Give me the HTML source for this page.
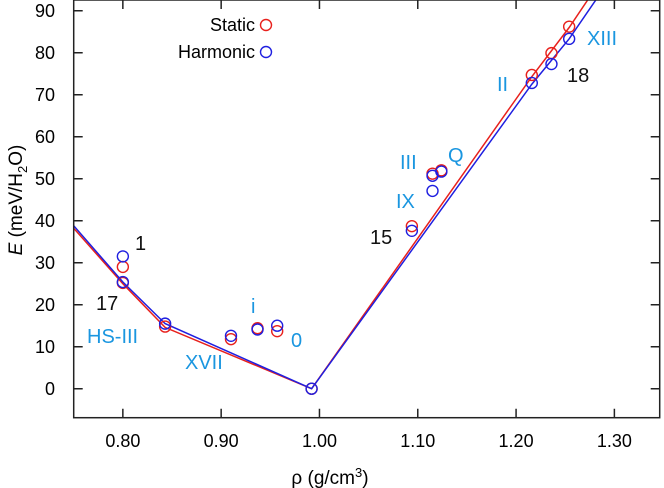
<!DOCTYPE html>
<html><head><meta charset="utf-8"><style>
body{margin:0;background:#fff}
svg{display:block;font-family:"Liberation Sans",sans-serif}
</style></head><body>
<svg id="chart" width="664" height="488" viewBox="0 0 664 488" xmlns="http://www.w3.org/2000/svg">
<g id="grid"></g>
<g id="lines"></g>
<g id="points"></g>
<g id="labels"></g>
<rect x="73.7" y="0" width="586" height="417.7" fill="none" stroke="#222" stroke-width="1.5"/>
<text transform="translate(22,200) rotate(-90)" text-anchor="middle" font-size="19"><tspan font-style="italic">E</tspan> (meV/H<tspan font-size="13" dy="5">2</tspan><tspan dy="-5">O)</tspan></text>
<text x="330" y="484" text-anchor="middle" font-size="19">ρ (g/cm<tspan font-size="13" dy="-7">3</tspan><tspan dy="7">)</tspan></text>
<text x="255" y="31" text-anchor="end" font-size="18">Static</text>
<circle cx="266" cy="25" r="5.5" fill="none" stroke="#e8201c" stroke-width="1.4"/>
<text x="255" y="58" text-anchor="end" font-size="18">Harmonic</text>
<circle cx="266" cy="52" r="5.5" fill="none" stroke="#1f1fe0" stroke-width="1.4"/>
</svg>
<script>
const xTicks=[0.80,0.90,1.00,1.10,1.20,1.30];
const yTicks=[0,10,20,30,40,50,60,70,80,90];
const staticX=[0.80,0.80,0.843,0.91,0.937,0.957,0.992,1.094,1.115,1.124,1.216,1.236,1.254];
const staticY=[29,25.2,14.8,11.8,14.4,13.7,0,38.7,51.2,52,74.7,79.9,86.2];
const harmX=[0.80,0.80,0.843,0.91,0.937,0.957,0.992,1.094,1.115,1.115,1.124,1.216,1.236,1.254];
const harmY=[31.5,25.4,15.5,12.6,14.1,15.0,0,37.6,50.7,47.1,51.7,72.8,77.3,83.3];
const staticLineX=[0.75,0.80,0.843,0.992,1.216,1.254,1.30];
const staticLineY=[38.2,25.0,14.6,0,74.3,86,102];
const harmLineX=[0.75,0.80,0.843,0.992,1.216,1.254,1.30];
const harmLineY=[38.8,25.4,15.5,0,72.5,83.3,99];
const labelText=["1","17","HS-III","XVII","i","0","15","IX","III","Q","II","18","XIII"];
const labelPx=[135,96,87,185,251,291,370,396,400,448,497,567,587];
const labelPy=[250,310,343,369,313,347,244,208,169,162,91,82,45];
const labelBlack=[1,1,0,0,0,0,1,0,0,0,0,1,0];
const X0=0.75,X1=1.3461,Y0=-6.9,Y1=92.55,L=73.7,R=659.7,T=0,B=417.7;
const sx=v=>L+(v-X0)/(X1-X0)*(R-L);
const sy=v=>B-(v-Y0)/(Y1-Y0)*(B-T);
const NS="http://www.w3.org/2000/svg";
function mk(tag,attrs,parent){const e=document.createElementNS(NS,tag);for(const k in attrs)e.setAttribute(k,attrs[k]);document.getElementById(parent).appendChild(e);return e;}
xTicks.forEach(t=>{
 const x=sx(t);
 let e=mk('path',{d:`M${x},${B}v-9M${x},${T}v9`,stroke:'#222','stroke-width':1.5},'grid');
 
 
 e=mk('text',{x:x,y:447,'text-anchor':'middle','font-size':18},'grid');e.textContent=t.toFixed(2);
 
 
});
yTicks.forEach(t=>{
 const y=sy(t);
 let e=mk('path',{d:`M${L},${y}h9M${R},${y}h-9`,stroke:'#222','stroke-width':1.5},'grid');
 
 
 e=mk('text',{x:55,y:y+6.5,'text-anchor':'end','font-size':18},'grid');e.textContent=t;
 
 
});
const clip=document.createElementNS(NS,'clipPath');clip.setAttribute('id','pc');
const cr=document.createElementNS(NS,'rect');cr.setAttribute('x',L);cr.setAttribute('y',T);cr.setAttribute('width',R-L);cr.setAttribute('height',B-T);clip.appendChild(cr);
document.getElementById('lines').appendChild(clip);
function line(xs,ys,col,name){
 const e=mk('polyline',{points:xs.map((x,i)=>sx(x)+','+sy(ys[i])).join(' '),fill:'none',stroke:col,'stroke-width':1.5,'clip-path':'url(#pc)'},'lines');
 
 
}
line(staticLineX,staticLineY,'#e8201c','static-hull-line');
line(harmLineX,harmLineY,'#1f1fe0','harmonic-hull-line');
function pts(xs,ys,col,name){
 xs.forEach((x,i)=>{
  const e=mk('circle',{cx:sx(x),cy:sy(ys[i]),r:5.5,fill:'none',stroke:col,'stroke-width':1.4},'points');
  
  
 });
}
pts(staticX,staticY,'#e8201c','static-point');
pts(harmX,harmY,'#1f1fe0','harmonic-point');
labelText.forEach((t,i)=>{
 const e=mk('text',{x:labelPx[i],y:labelPy[i],'font-size':20,fill:labelBlack[i]?'#111':'#1a96e0'},'labels');
 e.textContent=t;
 
 
});
</script>
</body></html>
